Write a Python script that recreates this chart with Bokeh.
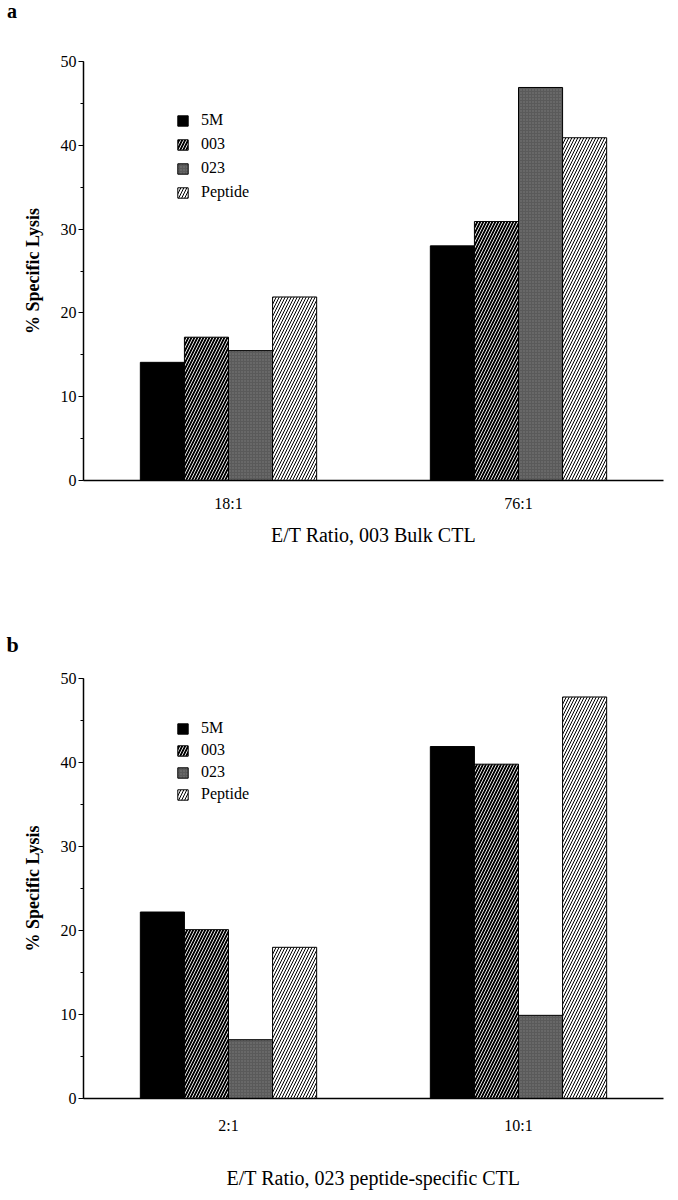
from bokeh.plotting import figure
from bokeh.models import (FactorRange, Range1d, ColumnDataSource, Legend, LegendItem,
                          SingleIntervalTicker, Div)
from bokeh.transform import dodge
from bokeh.layouts import column
from bokeh.embed import file_html
from bokeh.resources import INLINE

# ---------------- data ----------------
series = ["5M", "003", "023", "Peptide"]

cats_a = ["18:1", "76:1"]
a_5m = [14.1, 28.0]
a_003 = [17.1, 30.9]
a_023 = [15.5, 46.9]
a_pep = [21.9, 40.9]

cats_b = ["2:1", "10:1"]
b_5m = [22.2, 41.9]
b_003 = [20.1, 39.8]
b_023 = [7.0, 9.9]
b_pep = [18.0, 47.8]

FONT = "Liberation Serif"

STYLES = {
    "5M": dict(fill_color="black"),
    "003": dict(fill_color="black", hatch_pattern="/", hatch_color="white",
                hatch_weight=0.9, hatch_scale=6),
    "023": dict(fill_color="#5a5a5a", hatch_pattern="dot", hatch_color="#7c7c7c",
                hatch_weight=1, hatch_scale=3),
    "Peptide": dict(fill_color="white", hatch_pattern="/", hatch_color="black",
                    hatch_weight=1.0, hatch_scale=6),
}


def make_panel(letter, cats, vals, xtitle, height, top, bottom,
               tick_standoff, title_standoff, legend_y, legend_spacing, letter_standoff):
    p = figure(x_range=FactorRange(factors=cats, range_padding=0),
               y_range=Range1d(0, 50), width=670, height=height,
               output_backend="svg", toolbar_location=None, title=letter,
               min_border_left=83, min_border_right=7,
               min_border_top=top, min_border_bottom=bottom)
    data = dict(cat=cats)
    for s, v in zip(series, vals):
        data[s] = v
    src = ColumnDataSource(data)
    w = 0.152
    offsets = [-1.5 * w, -0.5 * w, 0.5 * w, 1.5 * w]
    items = []
    for s, off in zip(series, offsets):
        r = p.vbar(x=dodge("cat", off, range=p.x_range), top=s, width=w, source=src,
                   line_color="black", line_width=1, **STYLES[s])
        items.append(LegendItem(label=s, renderers=[r]))

    legend = Legend(items=items, location=(93, legend_y), glyph_width=13, glyph_height=13,
                    label_height=13, spacing=legend_spacing, label_standoff=12,
                    padding=0, margin=0, border_line_color=None, background_fill_alpha=0,
                    label_text_font=FONT, label_text_font_size="16px",
                    label_text_color="black")
    p.add_layout(legend, "center")

    if letter:
        p.title.align = "left"
        p.title.offset = -77
        p.title.standoff = letter_standoff
        p.title.text_font = FONT
        p.title.text_font_style = "bold"
        p.title.text_font_size = "22px"
        p.title.text_color = "black"

    p.xgrid.visible = False
    p.ygrid.visible = False
    p.outline_line_color = None

    ya = p.yaxis[0]
    ya.ticker = SingleIntervalTicker(interval=10, num_minor_ticks=2)
    ya.major_tick_in = 0
    ya.major_tick_out = 5
    ya.minor_tick_in = 0
    ya.minor_tick_out = 3
    ya.axis_line_width = 1.5
    ya.major_tick_line_width = 1.2
    ya.major_label_standoff = 2
    ya.major_label_text_font = FONT
    ya.major_label_text_font_size = "16px"
    ya.major_label_text_color = "black"
    ya.axis_label = "% Specific Lysis"
    ya.axis_label_text_font = FONT
    ya.axis_label_text_font_style = "bold"
    ya.axis_label_text_font_size = "18px"
    ya.axis_label_text_color = "black"
    ya.axis_label_standoff = 15

    xa = p.xaxis[0]
    xa.major_tick_line_color = None
    xa.major_tick_out = 0
    xa.major_tick_in = 0
    xa.axis_line_width = 1.5
    xa.major_label_standoff = tick_standoff
    xa.major_label_text_font = FONT
    xa.major_label_text_font_size = "16px"
    xa.major_label_text_color = "black"
    xa.axis_label = xtitle
    xa.axis_label_text_font = FONT
    xa.axis_label_text_font_style = "normal"
    xa.axis_label_text_font_size = "20px"
    xa.axis_label_text_color = "black"
    xa.axis_label_standoff = title_standoff
    return p


# panel letter "a" sits right at the top edge, so it is given its own text strip
div_a = Div(text="a", width=670, height=22, margin=0,
            styles={"font-family": FONT, "font-weight": "bold", "font-size": "20px",
                    "line-height": "22px", "padding-left": "7px", "color": "black"})

pa = make_panel(None, cats_a, [a_5m, a_003, a_023, a_pep], "E/T Ratio, 003 Bulk CTL",
                height=578, top=39, bottom=120, tick_standoff=14, title_standoff=9,
                legend_y=279, legend_spacing=6, letter_standoff=0)
pb = make_panel("b", cats_b, [b_5m, b_003, b_023, b_pep],
                "E/T Ratio, 023 peptide-specific CTL",
                height=600, top=78, bottom=102, tick_standoff=18, title_standoff=30,
                legend_y=295, legend_spacing=4, letter_standoff=44)

layout = column(div_a, pa, pb, spacing=0)
open("out.html", "w").write(file_html(layout, INLINE))
